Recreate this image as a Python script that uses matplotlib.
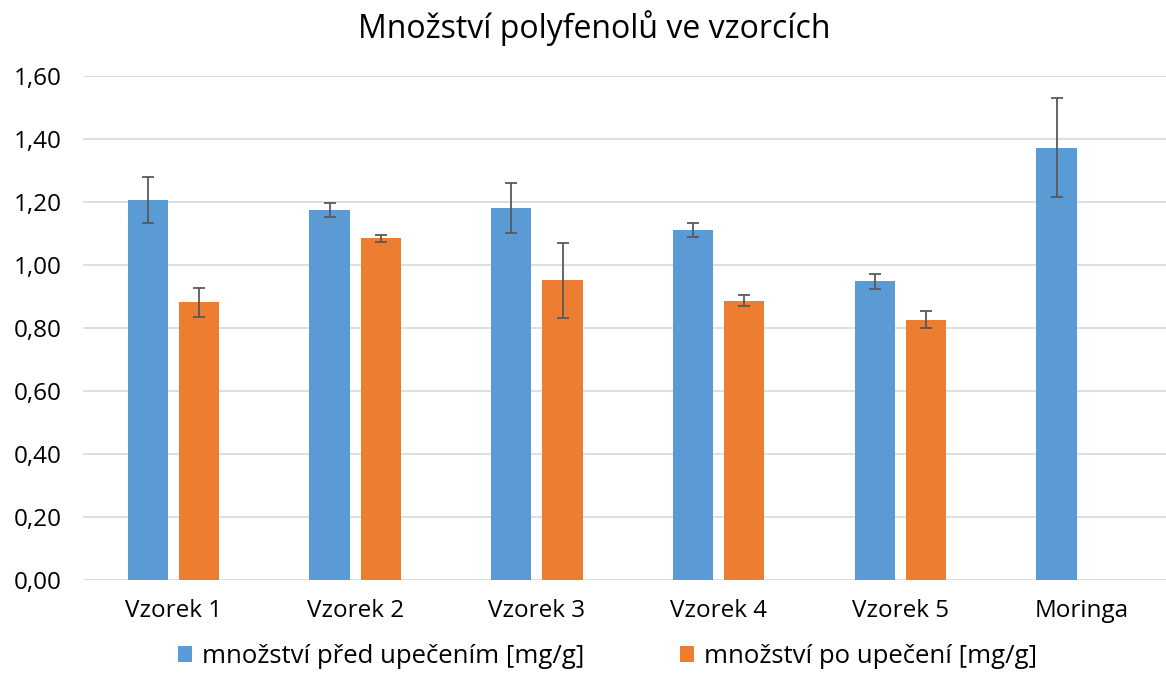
import numpy as np
import matplotlib.pyplot as plt

categories = ["Vzorek 1", "Vzorek 2", "Vzorek 3", "Vzorek 4", "Vzorek 5", "Moringa"]
pred = [1.206, 1.174, 1.180, 1.110, 0.948, 1.372]
pred_err = [0.072, 0.022, 0.080, 0.022, 0.024, 0.157]
po = [0.881, 1.084, 0.951, 0.887, 0.826, np.nan]
po_err = [0.047, 0.010, 0.118, 0.017, 0.027, np.nan]
yticks = [0.0, 0.2, 0.4, 0.6, 0.8, 1.0, 1.2, 1.4, 1.6]

plt.rcParams['font.family'] = ['Open Sans', 'DejaVu Sans']

fig = plt.figure(figsize=(11.66, 6.84), dpi=100)
ax = fig.add_axes([0.0708, 0.152, 0.929, 0.737])

x = np.arange(len(categories))
w = 0.222
off = 0.141
err_kw = dict(ecolor='#595959', elinewidth=1.3, capsize=4, capthick=1.3)
ax.bar(x - off, pred, w, yerr=pred_err, color='#5B9BD5', error_kw=err_kw,
       label='množství před upečením [mg/g]', zorder=3)
ax.bar(x + off, po, w, yerr=po_err, color='#ED7D31', error_kw=err_kw,
       label='množství po upečení [mg/g]', zorder=3)

ax.set_ylim(0, 1.6)
ax.set_xlim(-0.5, 5.46)
ax.set_yticks(yticks)
ax.set_yticklabels([f"{v:.2f}".replace('.', ',') for v in yticks])
ax.set_xticks(x)
ax.set_xticklabels(categories)
ax.tick_params(length=0, labelsize=17.5, colors='#000000')
ax.tick_params(axis='y', pad=15)
ax.tick_params(axis='x', pad=14)
ax.grid(axis='y', color='#d9d9d9', linewidth=1.2, zorder=0)
for s in ax.spines.values():
    s.set_visible(False)

fig.suptitle('Množství polyfenolů ve vzorcích', x=0.51, y=0.985, fontsize=23)
fig.legend(loc='lower center', bbox_to_anchor=(0.521, -0.012), ncol=2, frameon=False,
           fontsize=18.5, handlelength=0.55, handleheight=0.55, columnspacing=3.7,
           handletextpad=0.4)

fig.savefig('out.png', dpi=100)
